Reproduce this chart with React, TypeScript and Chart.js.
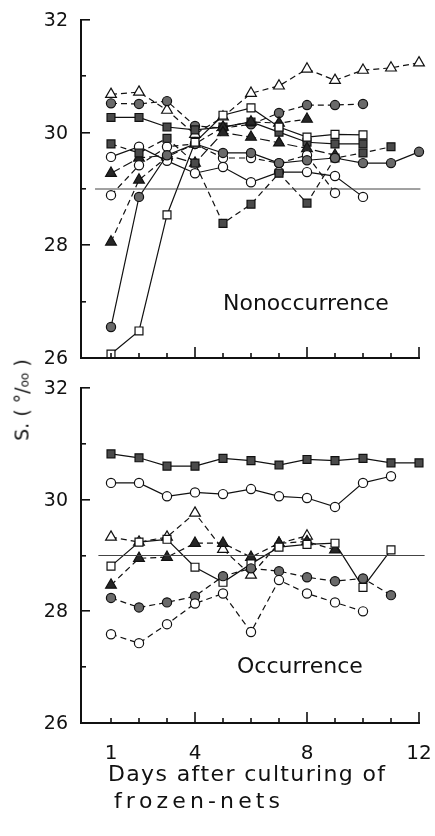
import React, { useEffect, useRef } from 'react';
import { Chart, registerables } from 'chart.js';

Chart.register(...registerables);

// ---------- data ----------
const DAYS = [1, 2, 3, 4, 5, 6, 7, 8, 9, 10, 11, 12];
const X_TICK_LABELS = [1, 4, 8, 12];
const Y_TICK_LABELS = [26, 28, 30, 32];
const Y_MIN = 26;
const Y_MAX = 32;
const X_MAX = 12;
const REF_LEVEL = 29;
const REF_SPAN_TOP = [0.43, 12.05];
const REF_SPAN_BOTTOM = [0.55, 12.2];

// Nonoccurrence (upper panel)
const NON_OPEN_TRI_DASH = [30.68, 30.72, 30.4, 29.97, 30.28, 30.7, 30.83, 31.13, 30.93, 31.11, 31.15, 31.24];
const NON_FILL_CIRC_DASH = [30.52, 30.51, 30.56, 30.12, 30.08, 30.15, 30.35, 30.49, 30.49, 30.51];
const NON_FILL_SQ_SOLID = [30.27, 30.27, 30.1, 30.05, 30.1, 30.19, 30.01, 29.83, 29.8, 29.8];
const NON_FILL_TRI_DASH = [28.06, 29.16, 29.57, 29.8, 30.1, 30.19, 30.17, 30.24];
const NON_FILL_TRI_LONG = [29.28, 29.55, 29.6, 29.46, 30.0, 29.92, 29.82, 29.72, 29.6];
const NON_FILL_CIRC_SOLID = [26.55, 28.86, 29.6, 29.8, 29.64, 29.64, 29.46, 29.51, 29.55, 29.46, 29.46, 29.66];
const NON_OPEN_SQ_SOLID = [26.07, 26.48, 28.54, 29.83, 30.31, 30.44, 30.1, 29.92, 29.97, 29.96];
const NON_FILL_SQ_DASH = [29.8, 29.64, 29.9, 29.46, 28.39, 28.73, 29.28, 28.75, 29.55, 29.64, 29.75];
const NON_OPEN_CIRC_SOLID = [29.57, 29.75, 29.5, 29.28, 29.39, 29.12, 29.3, 29.3, 29.23, 28.86];
const NON_OPEN_CIRC_DASH = [28.89, 29.42, 29.75, 29.8, 29.55, 29.55, 29.46, 29.6, 28.93];

// Occurrence (lower panel)
const OCC_FILL_SQ_SOLID = [30.82, 30.75, 30.6, 30.6, 30.74, 30.7, 30.62, 30.72, 30.7, 30.74, 30.66, 30.66];
const OCC_OPEN_CIRC_SOLID = [30.3, 30.3, 30.06, 30.13, 30.1, 30.19, 30.06, 30.03, 29.87, 30.3, 30.42];
const OCC_OPEN_TRI_DASH = [29.33, 29.24, 29.33, 29.76, 29.11, 28.65, 29.22, 29.35];
const OCC_OPEN_SQ_SOLID = [28.81, 29.24, 29.29, 28.79, 28.52, 28.85, 29.15, 29.2, 29.22, 28.43, 29.1];
const OCC_FILL_TRI_DASH = [28.47, 28.95, 28.97, 29.22, 29.22, 28.97, 29.22, 29.25, 29.1];
const OCC_FILL_CIRC_DASH = [28.24, 28.07, 28.16, 28.27, 28.63, 28.77, 28.72, 28.61, 28.54, 28.59, 28.29];
const OCC_OPEN_CIRC_DASH = [27.59, 27.43, 27.77, 28.14, 28.32, 27.63, 28.56, 28.32, 28.16, 28.0];

// ---------- styles ----------
type Marker = 'circle' | 'rect' | 'triangle';
interface Style { marker: Marker; filled: boolean; dash: number[] }
const DASH = [6, 4];
const LONG = [10, 4];
const SOLID: number[] = [];

const FONT = '"DejaVu Sans", "Liberation Sans", sans-serif';
const INK = '#111111';

function fillFor(m: Marker) {
  if (m === 'circle') return '#6a6a6a';
  if (m === 'rect') return '#4a4a4a';
  return '#262626';
}

function series(values: number[], s: Style) {
  return {
    data: values.map((v, i) => ({ x: DAYS[i], y: v })),
    borderColor: INK,
    borderWidth: 1.2,
    borderDash: s.dash,
    pointStyle: s.marker,
    pointRadius: s.marker === 'circle' ? 4.6 : s.marker === 'rect' ? 5.6 : 6.2,
    pointBackgroundColor: s.filled ? fillFor(s.marker) : '#ffffff',
    pointBorderColor: INK,
    pointBorderWidth: 1.2,
    fill: false,
    tension: 0,
    clip: false,
  };
}

function refLine(span: number[]) {
  return {
    data: span.map((x) => ({ x, y: REF_LEVEL })),
    borderColor: '#444444',
    borderWidth: 1,
    pointRadius: 0,
    fill: false,
    clip: false,
  };
}

function drawSpaced(ctx: CanvasRenderingContext2D, text: string, x: number, y: number, target: number) {
  const chars = Array.from(text);
  const widths = chars.map((c) => ctx.measureText(c).width);
  const total = widths.reduce((a, b) => a + b, 0);
  const gap = chars.length > 1 ? (target - total) / (chars.length - 1) : 0;
  let cx = x;
  chars.forEach((c, i) => {
    ctx.fillText(c, cx, y);
    cx += widths[i] + gap;
  });
}

const decorPlugin = {
  id: 'decor',
  afterDraw(chart: any, _args: any, opts: any) {
    const ctx: CanvasRenderingContext2D = chart.ctx;
    const xs = chart.scales['x'];
    const ys = chart.scales['y'];
    const left = Math.round(chart.chartArea.left);
    const right = Math.round(xs.getPixelForValue(X_MAX));
    const top = Math.round(ys.getPixelForValue(Y_MAX));
    const bottom = Math.round(ys.getPixelForValue(Y_MIN));

    ctx.save();
    ctx.globalAlpha = 1;
    ctx.globalCompositeOperation = 'source-over';
    ctx.fillStyle = INK;
    // axis lines as filled bars
    ctx.fillRect(left - 1, top - 1, 2, bottom - top + 2);
    ctx.fillRect(left - 1, bottom - 1, right - left + 2, 2);
    // y ticks (inward)
    for (let v = Y_MIN + 1; v <= Y_MAX; v++) {
      const py = Math.round(ys.getPixelForValue(v));
      const len = v % 2 === 0 ? 9 : 5;
      ctx.fillRect(left, py - 1, len, 1.6);
    }
    // x ticks (upward)
    for (let i = 0; i < DAYS.length; i++) {
      const d = DAYS[i];
      const px = Math.round(xs.getPixelForValue(d));
      const len = d % 4 === 0 ? 11 : 5;
      ctx.fillRect(px - 0.8, bottom - len, 1.6, len);
    }

    // tick labels
    ctx.font = `19px ${FONT}`;
    ctx.textAlign = 'right';
    ctx.textBaseline = 'middle';
    for (const v of Y_TICK_LABELS) {
      ctx.fillText(String(v), left - 13, ys.getPixelForValue(v) + 1);
    }
    if (opts && opts.xLabels) {
      ctx.font = `20px ${FONT}`;
      ctx.textAlign = 'center';
      for (const v of X_TICK_LABELS) {
        ctx.fillText(String(v), xs.getPixelForValue(v), bottom + 31);
      }
    }

    // free texts
    ctx.textBaseline = 'alphabetic';
    ctx.textAlign = 'left';
    const items = (opts && opts.items) || [];
    for (const t of items) {
      ctx.font = `${t.size}px ${FONT}`;
      if (t.width) drawSpaced(ctx, t.text, t.x, t.y, t.width);
      else ctx.fillText(t.text, t.x, t.y);
    }
    ctx.restore();
  },
};

function baseOptions(xAxisHeight: number, padTop: number, padBottom: number, decor: any) {
  return {
    responsive: false,
    animation: false,
    events: [],
    layout: { padding: { left: 0, right: 16, top: padTop, bottom: padBottom } },
    plugins: {
      legend: { display: false },
      tooltip: { enabled: false },
      decor,
    },
    scales: {
      x: {
        type: 'linear',
        min: X_MAX - 338 / 28,
        max: X_MAX,
        grid: { display: false },
        border: { display: false },
        ticks: { display: false },
        afterFit: (s: any) => {
          s.height = xAxisHeight;
        },
      },
      y: {
        type: 'linear',
        min: Y_MIN,
        max: Y_MAX,
        grid: { display: false },
        border: { display: false },
        ticks: { display: false },
        afterFit: (s: any) => {
          s.width = 81;
        },
      },
    },
  };
}

const S = (marker: Marker, filled: boolean, dash: number[]): Style => ({ marker, filled, dash });

export default function App() {
  const topRef = useRef<HTMLCanvasElement>(null);
  const botRef = useRef<HTMLCanvasElement>(null);

  useEffect(() => {
    const top = new Chart(topRef.current as HTMLCanvasElement, {
      type: 'line',
      data: {
        datasets: [
          refLine(REF_SPAN_TOP),
          series(NON_OPEN_SQ_SOLID, S('rect', false, SOLID)),
          series(NON_FILL_CIRC_SOLID, S('circle', true, SOLID)),
          series(NON_FILL_SQ_DASH, S('rect', true, DASH)),
          series(NON_OPEN_CIRC_SOLID, S('circle', false, SOLID)),
          series(NON_OPEN_CIRC_DASH, S('circle', false, DASH)),
          series(NON_FILL_TRI_LONG, S('triangle', true, LONG)),
          series(NON_FILL_TRI_DASH, S('triangle', true, DASH)),
          series(NON_FILL_SQ_SOLID, S('rect', true, SOLID)),
          series(NON_FILL_CIRC_DASH, S('circle', true, DASH)),
          series(NON_OPEN_TRI_DASH, S('triangle', false, DASH)),
        ] as any,
      },
      options: baseOptions(0, 20, 12, {
        xLabels: false,
        items: [{ text: 'Nonoccurrence', x: 223, y: 310, size: 22 }],
      }) as any,
      plugins: [decorPlugin],
    });

    const bot = new Chart(botRef.current as HTMLCanvasElement, {
      type: 'line',
      data: {
        datasets: [
          refLine(REF_SPAN_BOTTOM),
          series(OCC_OPEN_CIRC_DASH, S('circle', false, DASH)),
          series(OCC_FILL_CIRC_DASH, S('circle', true, DASH)),
          series(OCC_OPEN_SQ_SOLID, S('rect', false, SOLID)),
          series(OCC_FILL_TRI_DASH, S('triangle', true, DASH)),
          series(OCC_OPEN_TRI_DASH, S('triangle', false, DASH)),
          series(OCC_OPEN_CIRC_SOLID, S('circle', false, SOLID)),
          series(OCC_FILL_SQ_SOLID, S('rect', true, SOLID)),
        ] as any,
      },
      options: baseOptions(113, 18, 0, {
        xLabels: true,
        items: [
          { text: 'Occurrence', x: 237, y: 303, size: 22 },
          { text: 'Days after culturing of', x: 108, y: 411, size: 22, width: 277 },
          { text: 'frozen-nets', x: 114, y: 438, size: 22, width: 166 },
        ],
      }) as any,
      plugins: [decorPlugin],
    });

    return () => {
      top.destroy();
      bot.destroy();
    };
  }, []);

  return (
    <div style={{ position: 'absolute', left: 0, top: 0, width: 435, height: 836, background: '#fff' }}>
      <canvas ref={topRef} width={435} height={370} style={{ position: 'absolute', left: 0, top: 0 }} />
      <canvas ref={botRef} width={435} height={466} style={{ position: 'absolute', left: 0, top: 370 }} />
      <div
        style={{
          position: 'absolute',
          left: 22,
          top: 400,
          transform: 'translate(-50%, -50%) rotate(-90deg)',
          whiteSpace: 'nowrap',
          fontFamily: FONT,
          fontSize: 19,
          color: INK,
          lineHeight: 1,
        }}
      >
        S. ( °/<span style={{ fontSize: 12 }}>oo</span> )
      </div>
    </div>
  );
}
